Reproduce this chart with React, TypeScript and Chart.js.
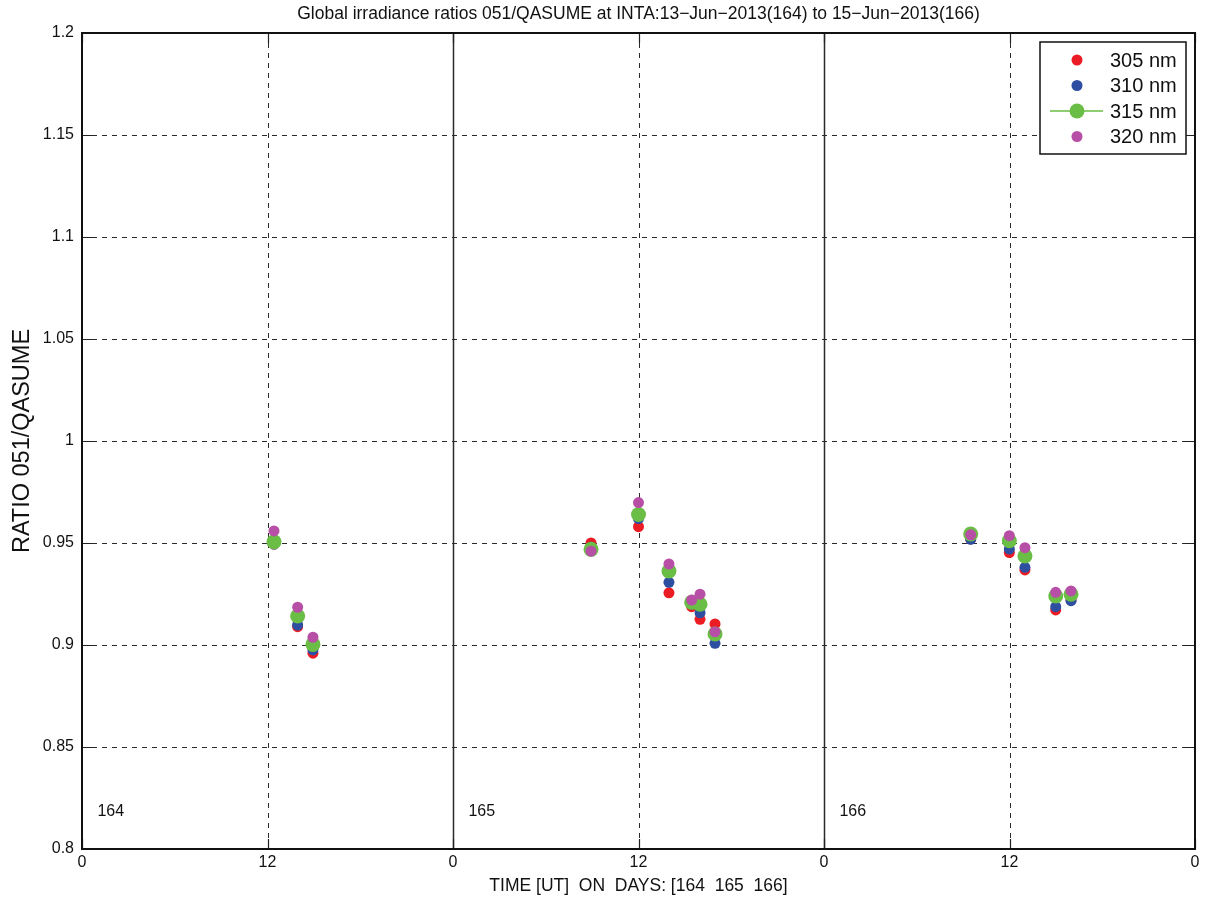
import React, { useEffect, useRef } from "react";
import { Chart, registerables } from "chart.js";

Chart.register(...registerables);

const times = [12.42, 13.95, 14.94, 32.93, 36.0, 37.97, 39.44, 39.98, 40.95, 57.49, 59.99, 61.0, 62.99, 63.98];
const r305 = [0.9495, 0.909, 0.896, 0.950, 0.958, 0.9256, 0.9188, 0.9126, 0.9103, 0.952, 0.9453, 0.9368, 0.9172, 0.922];
const r310 = [0.9495, 0.9098, 0.8976, 0.948, 0.962, 0.9307, 0.920, 0.9158, 0.9008, 0.9518, 0.947, 0.9381, 0.9188, 0.9217];
const r315 = [0.9506, 0.9142, 0.9003, 0.9469, 0.964, 0.9363, 0.9209, 0.920, 0.9054, 0.9544, 0.9511, 0.9436, 0.924, 0.9249];
const r320 = [0.9559, 0.9185, 0.9038, 0.946, 0.9698, 0.9397, 0.922, 0.9249, 0.9065, 0.954, 0.9536, 0.9477, 0.9258, 0.9265];
const days = [164, 165, 166];
const seriesLabels = ["305 nm", "310 nm", "315 nm", "320 nm"];
const titleText = "Global irradiance ratios 051/QASUME at INTA:13\u2212Jun\u22122013(164) to 15\u2212Jun\u22122013(166)";
const xTitle = "TIME [UT]  ON  DAYS: [164  165  166]";
const yTitle = "RATIO 051/QASUME";

const colors = ["#ec1c24", "#2e4ea2", "#6abd45", "#b84fa6"];
const radii = [5.5, 5.5, 7.5, 5.5];
const FONT = "'Liberation Sans', Arial, sans-serif";

const decorPlugin = {
  id: "decor",
  beforeDatasetsDraw(chart: any) {
    const { ctx, chartArea: a, scales } = chart;
    const xs = scales.x, ys = scales.y;
    ctx.save();
    ctx.strokeStyle = "#2a2a2a";
    ctx.lineWidth = 1;
    ctx.setLineDash([5, 5]);
    for (let v = 0.85; v < 1.2; v += 0.05) {
      const py = Math.round(ys.getPixelForValue(v)) + 0.5;
      ctx.beginPath();
      ctx.moveTo(a.left, py);
      ctx.lineTo(a.right, py);
      ctx.stroke();
    }
    for (const h of [12, 36, 60]) {
      const px = Math.round(xs.getPixelForValue(h)) + 0.5;
      ctx.beginPath();
      ctx.moveTo(px, a.top);
      ctx.lineTo(px, a.bottom);
      ctx.stroke();
    }
    ctx.setLineDash([]);
    ctx.lineWidth = 1.5;
    for (const h of [24, 48]) {
      const px = Math.round(xs.getPixelForValue(h)) + 0.5;
      ctx.beginPath();
      ctx.moveTo(px, a.top);
      ctx.lineTo(px, a.bottom);
      ctx.stroke();
    }
    // inward tick marks
    ctx.lineWidth = 1.2;
    ctx.strokeStyle = "#222";
    const tl = 10;
    for (let v = 0.8; v <= 1.2001; v += 0.05) {
      const py = Math.round(ys.getPixelForValue(v)) + 0.5;
      ctx.beginPath();
      ctx.moveTo(a.left, py); ctx.lineTo(a.left + tl, py);
      ctx.moveTo(a.right, py); ctx.lineTo(a.right - tl, py);
      ctx.stroke();
    }
    for (let h = 0; h <= 72; h += 12) {
      const px = Math.round(xs.getPixelForValue(h)) + 0.5;
      ctx.beginPath();
      ctx.moveTo(px, a.bottom); ctx.lineTo(px, a.bottom - tl);
      ctx.moveTo(px, a.top); ctx.lineTo(px, a.top + tl);
      ctx.stroke();
    }
    // day labels
    ctx.fillStyle = "#111";
    ctx.font = `16px ${FONT}`;
    ctx.textAlign = "left";
    ctx.textBaseline = "middle";
    days.forEach((d, i) => {
      ctx.fillText(String(d), xs.getPixelForValue(i * 24 + 1), ys.getPixelForValue(0.8185));
    });
    ctx.restore();
  },
  afterDraw(chart: any) {
    const { ctx, chartArea: a } = chart;
    ctx.save();
    ctx.strokeStyle = "#111";
    ctx.lineWidth = 2;
    ctx.strokeRect(a.left, a.top, a.right - a.left, a.bottom - a.top);
    // title
    ctx.fillStyle = "#111";
    ctx.textAlign = "center";
    ctx.textBaseline = "middle";
    ctx.font = `17.5px ${FONT}`;
    ctx.fillText(titleText, (a.left + a.right) / 2, 14);
    ctx.font = `17.5px ${FONT}`;
    ctx.fillText(xTitle, (a.left + a.right) / 2, 886);
    ctx.save();
    ctx.translate(23, (a.top + a.bottom) / 2);
    ctx.rotate(-Math.PI / 2);
    ctx.font = `23.5px ${FONT}`;
    ctx.fillText(yTitle, 0, 0);
    ctx.restore();
    // legend
    const lx = 1040, ly = 42, lw = 146, lh = 112;
    ctx.fillStyle = "#fff";
    ctx.fillRect(lx, ly, lw, lh);
    ctx.lineWidth = 1.5;
    ctx.strokeStyle = "#111";
    ctx.strokeRect(lx, ly, lw, lh);
    ctx.font = `20px ${FONT}`;
    ctx.textAlign = "left";
    seriesLabels.forEach((lab, i) => {
      const cy = ly + 18 + i * 25.5;
      if (i === 2) {
        ctx.strokeStyle = colors[2];
        ctx.lineWidth = 1.5;
        ctx.beginPath();
        ctx.moveTo(lx + 10, cy);
        ctx.lineTo(lx + 63, cy);
        ctx.stroke();
      }
      ctx.fillStyle = colors[i];
      ctx.beginPath();
      ctx.arc(lx + 37, cy, radii[i], 0, Math.PI * 2);
      ctx.fill();
      ctx.fillStyle = "#111";
      ctx.fillText(lab, lx + 70, cy + 1);
    });
    ctx.restore();
  },
};

export default function App() {
  const ref = useRef<HTMLCanvasElement>(null);
  useEffect(() => {
    const series = [r305, r310, r315, r320];
    const chart = new Chart(ref.current!, {
      type: "scatter",
      data: {
        datasets: series.map((s, i) => ({
          label: seriesLabels[i],
          data: s.map((v, j) => ({ x: times[j], y: v })),
          backgroundColor: colors[i],
          borderColor: colors[i],
          borderWidth: 0,
          pointRadius: radii[i],
          showLine: false,
          order: 4 - i,
        })),
      },
      options: {
        animation: false,
        responsive: false,
        events: [],
        layout: { padding: { top: 33, left: 0, right: 13, bottom: 0 } },
        plugins: { legend: { display: false }, title: { display: false }, tooltip: { enabled: false } },
        scales: {
          x: {
            type: "linear",
            min: 0,
            max: 72,
            grid: { display: false, drawTicks: false },
            border: { display: false },
            ticks: {
              stepSize: 12,
              padding: 4,
              color: "#111",
              font: { family: FONT, size: 16 },
              callback: (v: any) => String(Number(v) % 24),
            },
            afterFit: (s: any) => { s.height = 50; },
          },
          y: {
            min: 0.8,
            max: 1.2,
            grid: { display: false, drawTicks: false },
            border: { display: false },
            ticks: {
              stepSize: 0.05,
              padding: 8,
              color: "#111",
              font: { family: FONT, size: 16 },
              callback: (v: any) => String(Number(Number(v).toFixed(2))),
            },
            afterFit: (s: any) => { s.width = 82; },
          },
        },
      },
      plugins: [decorPlugin],
    } as any);
    return () => chart.destroy();
  }, []);
  return (
    <div style={{ position: "absolute", left: 0, top: 0, width: 1208, height: 899, background: "#fff" }}>
      <canvas ref={ref} width={1208} height={899} />
    </div>
  );
}
